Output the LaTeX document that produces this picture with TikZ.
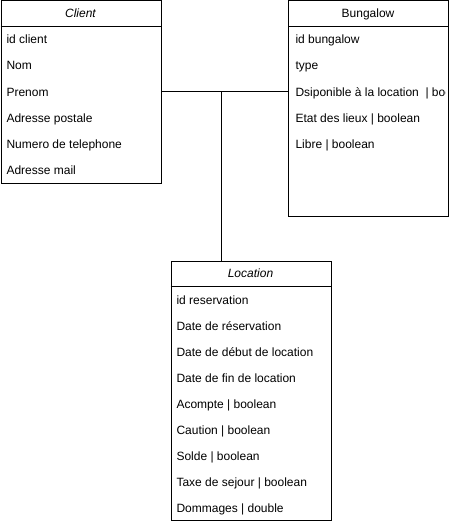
\documentclass[tikz,border=0pt]{standalone}
\usepackage{fontspec}
\setmainfont{Liberation Sans}
\begin{document}
\begin{tikzpicture}[x=1pt,y=-1pt,
                      line width=1pt,
                      entity/.style={draw,anchor=north west,inner sep=0pt},
                      title/.style={anchor=base,inner sep=0pt,font=\fontsize{12}{14}\selectfont},
                      attr/.style={anchor=base west,inner sep=0pt,font=\fontsize{12}{14}\selectfont}
                     ]
   \useasboundingbox (0,0) rectangle (449,524);
   % the three tables
   \node[entity,minimum width=160pt,minimum height=182pt] (client) at (0.5,0.5) {};
   \node[entity,minimum width=160pt,minimum height=215pt] (bungalow) at (288,0.5) {};
   \node[entity,minimum width=160pt,minimum height=259pt] (location) at (170.5,260.5) {};
   \draw ([yshift=-26pt]client.north west) -- ([yshift=-26pt]client.north east);
   \draw ([yshift=-26pt]bungalow.north west) -- ([yshift=-26pt]bungalow.north east);
   \draw ([yshift=-26pt]location.north west) -- ([yshift=-26pt]location.north east);
   \node[title] (clienttitle) at (80.5,17.5) {\itshape Client};
   \node[title] (bungalowtitle) at (368,17.5) {Bungalow};
   \node[title] (locationtitle) at (250.5,277.5) {\itshape Location};
   % Client
   \node[attr] (c1) at (6,44) {id client};
   \node[attr] (c2) at (6,70) {Nom};
   \node[attr] (c3) at (6,96) {Prenom};
   \node[attr] (c4) at (6,122) {Adresse postale};
   \node[attr] (c5) at (6,148) {Numero de telephone};
   \node[attr] (c6) at (6,174) {Adresse mail};
   % Bungalow
   \begin{scope}
     \clip (288,0) rectangle (445,216);
     \node[attr] (b1) at (295,44) {id bungalow};
     \node[attr] (b2) at (295,70) {type};
     \node[attr] (b3) at (295,96) {Dsiponible à la location \ | boolean};
     \node[attr] (b4) at (295,122) {Etat des lieux | boolean};
     \node[attr] (b5) at (295,148) {Libre | boolean};
   \end{scope}
   % Location
   \node[attr] (l1) at (176,304) {id reservation};
   \node[attr] (l2) at (176,330) {Date de réservation};
   \node[attr] (l3) at (176,356) {Date de début de location};
   \node[attr] (l4) at (176,382) {Date de fin de location};
   \node[attr] (l5) at (176,408) {Acompte | boolean};
   \node[attr] (l6) at (176,434) {Caution | boolean};
   \node[attr] (l7) at (176,460) {Solde | boolean};
   \node[attr] (l8) at (176,486) {Taxe de sejour | boolean};
   \node[attr] (l9) at (176,512) {Dommages | double};
   % links
   \coordinate (j) at (221.5,91.5);
   \draw (client.east |- j) -- (bungalow.west |- j);
   \draw (j) -- (location.north -| j);
\end{tikzpicture}
\end{document}
